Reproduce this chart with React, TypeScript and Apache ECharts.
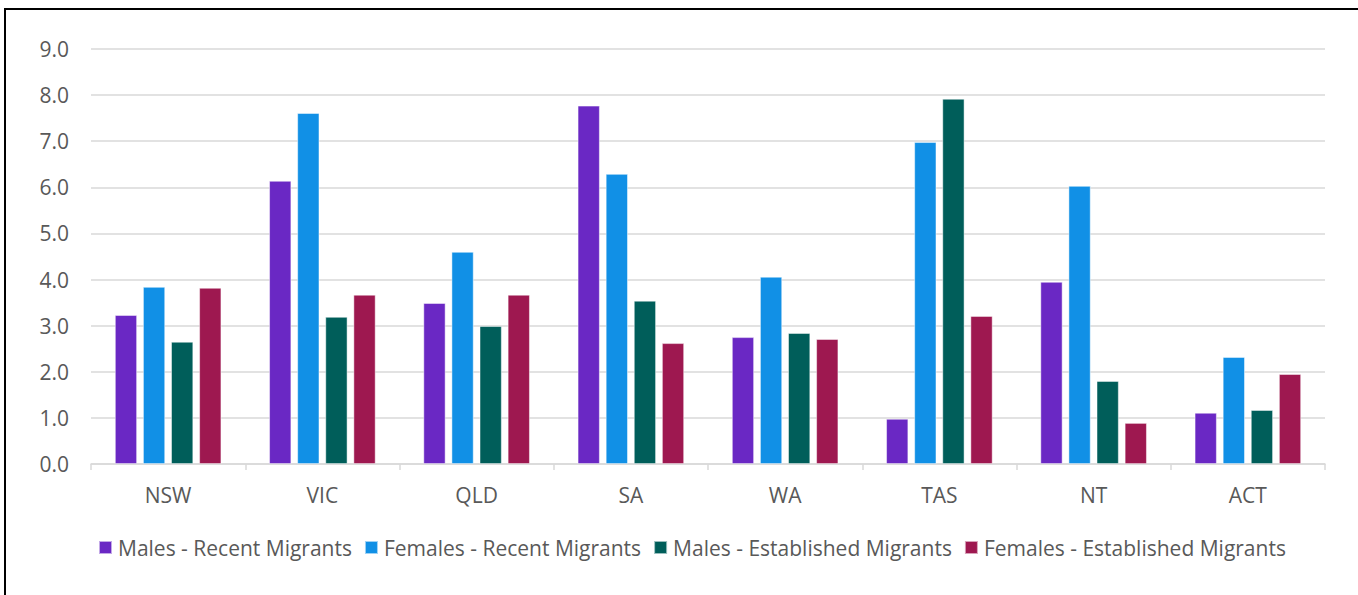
import React, { useEffect, useRef } from "react";
import * as echarts from "echarts";

const categories = ["NSW", "VIC", "QLD", "SA", "WA", "TAS", "NT", "ACT"];
const seriesNames = [
  "Males - Recent Migrants",
  "Females - Recent Migrants",
  "Males - Established Migrants",
  "Females - Established Migrants",
];
const malesRecent = [3.23, 6.14, 3.49, 7.77, 2.75, 0.98, 3.95, 1.11];
const femalesRecent = [3.84, 7.61, 4.6, 6.29, 4.06, 6.98, 6.03, 2.32];
const malesEstablished = [2.65, 3.19, 2.99, 3.54, 2.84, 7.92, 1.8, 1.17];
const femalesEstablished = [3.82, 3.67, 3.67, 2.62, 2.71, 3.21, 0.89, 1.95];
const colors = ["#6A28C4", "#1190E6", "#005E5A", "#9E1850"];

const FONT = "'Open Sans', sans-serif";

export default function App() {
  const ref = useRef<HTMLDivElement>(null);
  useEffect(() => {
    if (!ref.current) return;
    const chart = echarts.init(ref.current, null, { renderer: "svg" });
    const data = [malesRecent, femalesRecent, malesEstablished, femalesEstablished];
    chart.setOption({
      animation: false,
      backgroundColor: "#ffffff",
      textStyle: { fontFamily: FONT },
      grid: { left: 91, right: 33, top: 49, bottom: 131, containLabel: false },
      legend: {
        top: 537,
        left: 98,
        padding: 0,
        itemWidth: 13,
        itemHeight: 13,
        itemGap: 12,
        icon: "rect",
        textStyle: { fontFamily: FONT, fontSize: 21, color: "#595959", padding: [0, 0, 0, 1] },
        data: seriesNames,
      },
      xAxis: {
        type: "category",
        data: categories,
        axisLine: { lineStyle: { color: "#D9D9D9", width: 1.5 } },
        axisTick: { show: true, length: 6, lineStyle: { color: "#D9D9D9", width: 1.5 } },
        axisLabel: { color: "#595959", fontSize: 21, fontFamily: FONT, margin: 20 },
      },
      yAxis: {
        type: "value",
        min: 0,
        max: 9,
        interval: 1,
        axisLine: { show: false },
        axisTick: { show: false },
        splitLine: { lineStyle: { color: "#D9D9D9", width: 1.5 } },
        axisLabel: {
          color: "#595959",
          fontSize: 21,
          fontFamily: FONT,
          margin: 22,
          formatter: (v: number) => v.toFixed(1),
        },
      },
      graphic: [
        {
          type: "rect",
          shape: { x: 5, y: 9, width: 1360, height: 600 },
          style: { fill: "none", stroke: "#000000", lineWidth: 2 },
          silent: true,
        },
      ],
      series: data.map((d, i) => ({
        name: seriesNames[i],
        type: "bar",
        data: d,
        barGap: "27%",
        barCategoryGap: "31%",
        itemStyle: { color: colors[i], borderColor: "rgba(255,255,255,0.6)", borderWidth: 0.8 },
      })),
    });
    return () => chart.dispose();
  }, []);
  return (
    <div
      ref={ref}
      style={{ position: "fixed", left: 0, top: 0, width: 1358, height: 595 }}
    />
  );
}
